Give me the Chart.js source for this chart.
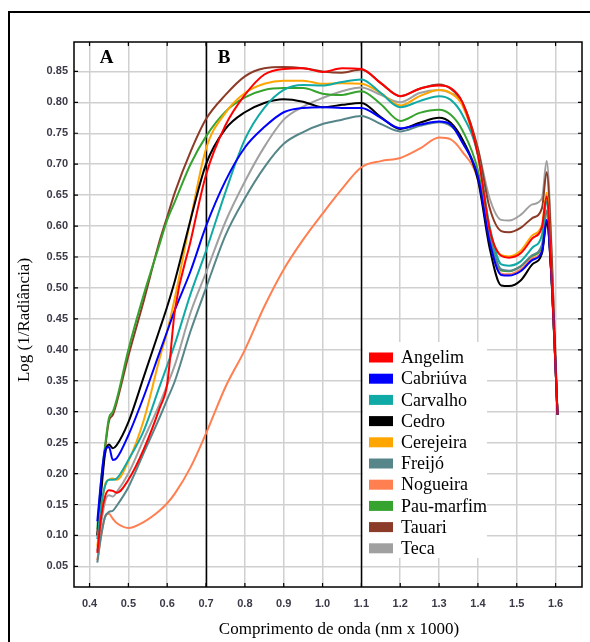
<!DOCTYPE html>
<html><head><meta charset="utf-8">
<script src="https://cdn.jsdelivr.net/npm/chart.js@4"></script>
<style>html,body{margin:0;padding:0;background:#fff;}</style>
</head><body>
<canvas id="c" width="590" height="642"></canvas>
<script>
const wavelengths = [0.42,0.43,0.44,0.45,0.46,0.47,0.50,0.54,0.58,0.60,0.62,0.66,0.70,0.75,0.80,0.85,0.90,0.95,1.00,1.05,1.10,1.15,1.20,1.25,1.30,1.33,1.36,1.40,1.43,1.46,1.48,1.51,1.54,1.565,1.577,1.59,1.605];
const angelim   = [.072,.13,.163,.173,.172,.169,.19,.24,.305,.345,.465,.575,.683,.763,.812,.845,.854,.855,.849,.855,.854,.831,.81,.822,.827,.823,.80,.715,.595,.552,.549,.556,.58,.599,.648,.515,.295];
const cabriuva  = [.123,.19,.238,.243,.222,.225,.262,.325,.395,.43,.465,.527,.60,.673,.727,.76,.784,.791,.792,.791,.791,.775,.758,.764,.769,.764,.735,.68,.575,.521,.52,.527,.545,.559,.61,.51,.295];
const carvalho  = [.094,.15,.18,.19,.19,.192,.222,.27,.34,.375,.41,.49,.56,.655,.74,.791,.82,.828,.827,.833,.837,.815,.792,.802,.81,.804,.78,.715,.60,.538,.536,.543,.565,.586,.64,.515,.295];
const cedro     = [.10,.17,.232,.247,.241,.246,.283,.357,.432,.47,.512,.61,.70,.757,.784,.799,.805,.801,.792,.796,.799,.776,.757,.767,.775,.767,.74,.675,.565,.504,.503,.512,.538,.556,.605,.51,.295];
const cerejeira = [.082,.14,.182,.19,.192,.19,.22,.287,.385,.43,.485,.61,.725,.783,.815,.83,.835,.835,.83,.831,.83,.815,.795,.81,.82,.815,.795,.715,.595,.553,.551,.56,.585,.602,.654,.515,.295];
const freijo    = [.056,.10,.13,.138,.14,.148,.178,.234,.29,.32,.35,.43,.50,.585,.645,.695,.733,.752,.765,.772,.778,.765,.753,.762,.768,.762,.74,.68,.585,.53,.528,.535,.553,.57,.625,.51,.295];
const nogueira  = [.06,.10,.13,.135,.127,.12,.112,.122,.14,.152,.168,.21,.265,.34,.40,.47,.53,.578,.62,.66,.695,.705,.71,.725,.743,.74,.72,.675,.575,.523,.522,.53,.548,.56,.61,.51,.295];
const paumarfim = [.11,.19,.245,.29,.30,.32,.40,.49,.57,.61,.64,.70,.745,.785,.808,.82,.823,.823,.814,.812,.818,.797,.77,.783,.788,.78,.755,.69,.585,.528,.527,.535,.552,.565,.624,.51,.295];
const tauari    = [.10,.18,.24,.285,.295,.315,.39,.48,.575,.615,.655,.72,.773,.812,.842,.855,.857,.855,.85,.848,.853,.831,.81,.822,.829,.822,.80,.725,.63,.592,.59,.597,.613,.629,.687,.55,.295];
const teca      = [.075,.12,.155,.165,.163,.17,.20,.256,.312,.343,.376,.46,.525,.607,.672,.728,.772,.793,.807,.818,.824,.812,.80,.815,.82,.815,.80,.725,.645,.61,.609,.618,.635,.645,.705,.56,.295];

const seriesNames  = ['Angelim','Cabriúva','Carvalho','Cedro','Cerejeira','Freijó','Nogueira','Pau-marfim','Tauari','Teca'];
const seriesValues = [angelim,cabriuva,carvalho,cedro,cerejeira,freijo,nogueira,paumarfim,tauari,teca];
const seriesColors = ['#ff0000','#0000ff','#10aaa6','#000000','#ffa500','#568689','#ff7f50','#36a32e','#8c3b28','#a0a0a0'];

const xTickValues = [0.4,0.5,0.6,0.7,0.8,0.9,1.0,1.1,1.2,1.3,1.4,1.5,1.6];
const yTickValues = [0.05,0.10,0.15,0.20,0.25,0.30,0.35,0.40,0.45,0.50,0.55,0.60,0.65,0.70,0.75,0.80,0.85];
const regionLines = [0.7, 1.1];
const regionNames = ['A','B'];
const xTitle = 'Comprimento de onda (nm x 1000)';
const yTitle = 'Log (1/Radiância)';

const datasets = seriesNames.map((name, s) => ({
  label: name,
  data: wavelengths.map((w, i) => ({x: w, y: seriesValues[s][i]})),
  borderColor: seriesColors[s],
  backgroundColor: seriesColors[s],
  borderWidth: 2,
  pointRadius: 0,
  cubicInterpolationMode: 'monotone',
  fill: false
}));

const decor = {
  id: 'decor',
  beforeDatasetsDraw(chart) {
    const {ctx, chartArea: a, scales: {x}} = chart;
    ctx.save();
    ctx.strokeStyle = '#000'; ctx.lineWidth = 1.5;
    regionLines.forEach(v => {
      const px = Math.round(x.getPixelForValue(v)) + 0.5;
      ctx.beginPath(); ctx.moveTo(px, a.top); ctx.lineTo(px, a.bottom); ctx.stroke();
    });
    ctx.restore();
  },
  afterDraw(chart) {
    const {ctx, chartArea: a, scales: {x, y}} = chart;
    ctx.save();
    ctx.strokeStyle = '#000'; ctx.lineWidth = 1.5;
    ctx.strokeRect(a.left, a.top, a.right - a.left, a.bottom - a.top);
    ctx.lineWidth = 1.2;
    ctx.beginPath();
    xTickValues.forEach(v => {
      const px = x.getPixelForValue(v);
      ctx.moveTo(px, a.bottom); ctx.lineTo(px, a.bottom - 4);
      ctx.moveTo(px, a.top); ctx.lineTo(px, a.top + 4);
    });
    yTickValues.forEach(v => {
      const py = y.getPixelForValue(v);
      ctx.moveTo(a.left, py); ctx.lineTo(a.left + 4, py);
      ctx.moveTo(a.right, py); ctx.lineTo(a.right - 4, py);
    });
    ctx.stroke();
    ctx.fillStyle = '#000';
    ctx.font = 'bold 19px "Liberation Serif"';
    ctx.textAlign = 'center'; ctx.textBaseline = 'middle';
    const labPos = [x.getPixelForValue(0.4) + 17, x.getPixelForValue(0.7) + 18];
    regionNames.forEach((t, i) => ctx.fillText(t, labPos[i], a.top + 16));
    const lx = 363, ly = 342, lw = 124, lh = 216;
    ctx.fillStyle = '#fff';
    ctx.fillRect(lx, ly, lw, lh);
    ctx.font = '18px "Liberation Serif"';
    ctx.textAlign = 'left'; ctx.textBaseline = 'middle';
    seriesNames.forEach((n, i) => {
      const cy = 357.5 + i * 21.2;
      ctx.fillStyle = seriesColors[i];
      ctx.fillRect(369, cy - 5, 24, 10);
      ctx.fillStyle = '#000';
      ctx.fillText(n, 401, cy + 1);
    });
    ctx.font = '17px "Liberation Serif"';
    ctx.textAlign = 'center';
    ctx.fillText(xTitle, 339, 630);
    ctx.save();
    ctx.translate(25, 320); ctx.rotate(-Math.PI / 2);
    ctx.fillText(yTitle, 0, 0);
    ctx.restore();
    ctx.strokeStyle = '#000'; ctx.lineWidth = 2;
    ctx.beginPath(); ctx.moveTo(9, 642); ctx.lineTo(9, 12); ctx.lineTo(590, 12); ctx.stroke();
    ctx.restore();
  }
};

new Chart(document.getElementById('c'), {
  type: 'line',
  data: {datasets},
  plugins: [decor],
  options: {
    responsive: false, animation: false, devicePixelRatio: 1,
    layout: {padding: {top: 42, right: 8, left: 0, bottom: 0}},
    plugins: {legend: {display: false}, tooltip: {enabled: false}},
    scales: {
      x: {
        type: 'linear', min: 0.36, max: 1.668,
        afterBuildTicks: s => { s.ticks = xTickValues.map(v => ({value: v})); },
        afterFit: s => { s.height = 55; },
        ticks: {callback: v => v.toFixed(1), font: {family: 'Liberation Sans', weight: 'bold', size: 11}, color: '#3a3a48', padding: 10, maxRotation: 0, autoSkip: false},
        grid: {color: '#d0d0d0', lineWidth: 1.5, drawTicks: false},
        border: {display: false}
      },
      y: {
        type: 'linear', min: 0.0167, max: 0.8975,
        afterBuildTicks: s => { s.ticks = yTickValues.map(v => ({value: v})); },
        afterFit: s => { s.width = 74; },
        ticks: {callback: v => v.toFixed(2), font: {family: 'Liberation Sans', weight: 'bold', size: 11}, color: '#3a3a48', padding: 6, autoSkip: false},
        grid: {color: '#d0d0d0', lineWidth: 1.5, drawTicks: false},
        border: {display: false}
      }
    }
  }
});
</script>
</body></html>
